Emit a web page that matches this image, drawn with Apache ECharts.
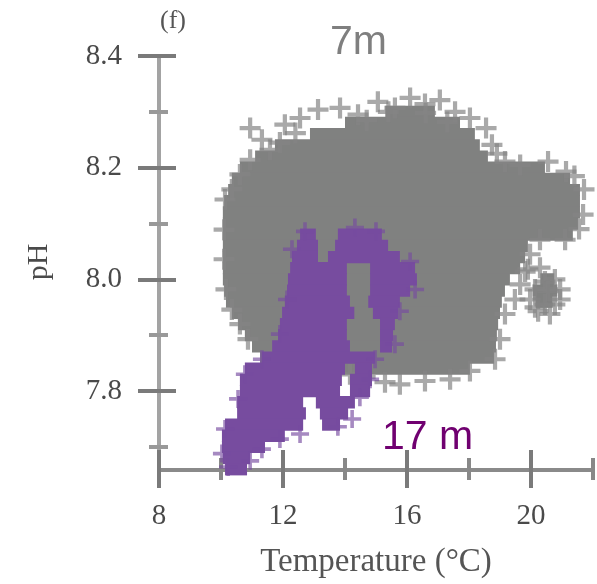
<!DOCTYPE html>
<html><head><meta charset="utf-8">
<script src="https://cdn.jsdelivr.net/npm/echarts@6/dist/echarts.min.js"></script>
<style>html,body{margin:0;padding:0;background:#fff}#c{width:597px;height:584px}</style>
</head><body><div id="c"></div>
<script>
// Axis ticks
const xTicks = [8, 12, 16, 20];
const xMinorTicks = [10, 14, 18, 22];
const yTicks = [7.8, 8.0, 8.2, 8.4];
const yMinorTicks = [7.7, 7.9, 8.1, 8.3];

// Dense part of the 7 m cloud: [pH band centre, temperature from, temperature to]
const gray7mRows = [
  [8.30, 15.30, 16.90],
  [8.28, 14.00, 17.71],
  [8.26, 12.87, 18.19],
  [8.24, 11.74, 18.35],
  [8.22, 11.10, 18.61],
  [8.20, 10.61, 20.45],
  [8.18, 10.35, 21.26],
  [8.16, 10.23, 21.58],
  [8.14, 10.10, 21.58],
  [8.12, 10.06, 21.58],
  [8.10, 10.06, 21.52],
  [8.08, 10.06, 21.35],
  [8.06, 10.06, 19.90],
  [8.04, 10.06, 19.81],
  [8.02, 10.06, 19.65],
  [8.00, 10.06, 19.32], [8.00, 20.30, 20.75],
  [7.98, 10.10, 19.16], [7.98, 20.05, 20.85],
  [7.96, 10.16, 19.06], [7.96, 20.15, 20.70],
  [7.94, 10.35, 19.00],
  [7.92, 10.55, 18.94],
  [7.90, 10.77, 18.90],
  [7.88, 11.00, 18.87],
  [7.86, 11.26, 18.81],
  [7.84, 11.42, 18.03]
];
// Scattered 7 m readings at the cloud edge: [temperature, pH]
const gray7mPoints = [
  [10.94, 8.271], [11.32, 8.25], [12.06, 8.277], [12.55, 8.289], [13.13, 8.304],
  [13.84, 8.307], [14.42, 8.295], [15.06, 8.318], [15.61, 8.307], [16.10, 8.325],
  [16.58, 8.314], [17.06, 8.321], [17.55, 8.30], [18.03, 8.289], [18.55, 8.271],
  [18.74, 8.241], [19.16, 8.211], [19.65, 8.205], [20.55, 8.211], [21.13, 8.193],
  [21.71, 8.161], [21.68, 8.116], [21.10, 8.071], [20.29, 8.071], [19.97, 8.045],
  [19.90, 8.018], [20.45, 7.996], [20.94, 7.982], [20.77, 7.955], [20.13, 7.95],
  [19.48, 7.964], [19.16, 7.938], [19.00, 7.893], [18.84, 7.857], [18.03, 7.836],
  [17.39, 7.821], [16.58, 7.818], [15.77, 7.812], [15.29, 7.816], [14.65, 7.825],
  [14.16, 7.830], [10.13, 8.143], [10.10, 8.089], [10.10, 8.036], [10.16, 7.982],
  [10.35, 7.946], [10.61, 7.920], [10.87, 7.893], [10.61, 8.188], [10.35, 8.161],
  [10.94, 8.214], [11.58, 8.232],
  [19.81, 8.014], [20.29, 8.021], [20.77, 8.000], [20.55, 7.979], [20.13, 7.982],
  [20.94, 7.964], [20.45, 7.955], [19.97, 7.964], [19.65, 7.991], [20.61, 7.938],
  [20.23, 7.943], [15.40, 8.300], [16.60, 8.298], [14.70, 8.285], [17.30, 8.282],
  [12.40, 8.262], [11.90, 8.245], [18.90, 8.225], [21.40, 8.185], [21.55, 8.090]
];

// Dense part of the 17 m cloud: [pH band centre, temperature from, temperature to]
const purple17mRows = [
  [8.08, 12.55, 13.06], [8.08, 13.77, 15.19],
  [8.06, 12.45, 13.13], [8.06, 13.68, 15.39],
  [8.04, 12.29, 13.13], [8.04, 13.45, 15.77],
  [8.02, 12.23, 14.06], [8.02, 14.81, 16.26],
  [8.00, 12.16, 14.06], [8.00, 14.81, 16.32],
  [7.98, 12.13, 14.06], [7.98, 14.81, 16.10],
  [7.96, 12.06, 14.16], [7.96, 14.75, 15.77],
  [7.94, 11.97, 14.30], [7.94, 14.90, 15.71],
  [7.92, 11.90, 14.06], [7.92, 15.13, 15.61],
  [7.90, 11.84, 14.06], [7.90, 15.13, 15.55],
  [7.88, 11.65, 14.16], [7.88, 15.13, 15.52],
  [7.86, 11.32, 14.97],
  [7.84, 10.77, 14.00], [7.84, 14.32, 14.87],
  [7.82, 10.61, 13.90], [7.82, 14.16, 14.87],
  [7.80, 10.61, 13.84], [7.80, 14.16, 14.81],
  [7.78, 10.52, 12.65], [7.78, 13.06, 14.32],
  [7.76, 10.52, 12.74], [7.76, 13.19, 14.10],
  [7.74, 10.13, 12.65], [7.74, 13.26, 13.84],
  [7.72, 10.03, 12.06],
  [7.70, 10.03, 11.42],
  [7.68, 10.06, 10.94],
  [7.66, 10.13, 10.84]
];
// Scattered 17 m readings at the cloud edge: [temperature, pH]
const purple17mPoints = [
  [12.71, 8.086], [14.32, 8.093], [15.00, 8.086], [16.10, 8.032], [16.26, 7.982],
  [15.77, 7.943], [15.61, 7.884], [14.97, 7.857], [14.81, 7.821], [14.48, 7.789],
  [14.23, 7.75], [13.77, 7.736], [12.55, 7.723], [11.90, 7.714], [11.32, 7.696],
  [10.94, 7.675], [10.23, 7.664], [10.03, 7.688], [10.13, 7.732], [10.55, 7.786],
  [10.77, 7.830], [11.32, 7.857], [11.90, 7.902], [12.13, 7.964], [12.29, 8.054]
];

const ROW = 0.02;
const GRAY = '#808180';
const PURPLE = '#774c9f';
const PLUS = 'path://M4,0h2v4h4v2h-4v4h-2v-4h-4v-2h4z';
const SERIF = '"Liberation Serif","DejaVu Serif",serif';

function bandRenderer(color) {
  return function (params, api) {
    const ph = api.value(0), t1 = api.value(1), t2 = api.value(2);
    const a = api.coord([t1, ph + ROW / 2 + 0.001]);
    const b = api.coord([t2, ph - ROW / 2 - 0.001]);
    return {type: 'rect', shape: {x: a[0], y: a[1], width: b[0] - a[0], height: b[1] - a[1]},
      style: {fill: color}};
  };
}

const X_MIN = 8, X_MAX = 22, Y_MIN = 7.63, Y_MAX = 8.4;
function xAx(o) {
  return Object.assign({type: 'value', min: X_MIN, max: X_MAX, position: 'bottom', offset: -16,
    splitLine: {show: false}, axisLine: {show: false}, axisLabel: {show: false},
    axisTick: {show: false}}, o);
}
function yAx(o) {
  return Object.assign({type: 'value', min: Y_MIN, max: Y_MAX, position: 'left',
    splitLine: {show: false}, axisLine: {show: false}, axisLabel: {show: false},
    axisTick: {show: false}}, o);
}

const chart = echarts.init(document.getElementById('c'));
chart.setOption({
  animation: false,
  backgroundColor: '#fff',
  grid: {left: 159, top: 56, width: 434, height: (Y_MAX - Y_MIN) * 560},
  xAxis: [
    xAx({
      axisLine: {show: true, lineStyle: {color: '#8a8a8a', width: 4}},
      axisTick: {show: true, customValues: xTicks, length: 18, lineStyle: {color: '#7a7a7a', width: 4}},
      axisLabel: {show: true, customValues: xTicks, margin: 32, fontFamily: SERIF, fontSize: 29, color: '#4a4a4a'},
      name: 'Temperature (°C)', nameLocation: 'middle', nameGap: 76,
      nameTextStyle: {fontFamily: SERIF, fontSize: 33, color: '#555'}
    }),
    xAx({axisTick: {show: true, inside: true, customValues: xTicks, length: 20, lineStyle: {color: '#7a7a7a', width: 4}}}),
    xAx({axisTick: {show: true, customValues: xMinorTicks, length: 10, lineStyle: {color: '#888', width: 4}}}),
    xAx({axisTick: {show: true, inside: true, customValues: xMinorTicks, length: 12, lineStyle: {color: '#888', width: 4}}})
  ],
  yAxis: [
    yAx({
      axisLine: {show: true, lineStyle: {color: '#a3a3a3', width: 4}},
      axisTick: {show: true, customValues: yTicks, length: 21, lineStyle: {color: '#7a7a7a', width: 4}},
      axisLabel: {show: true, customValues: yTicks, margin: 37, fontFamily: SERIF, fontSize: 29, color: '#4a4a4a',
        formatter: v => v.toFixed(1)},
      name: 'pH', nameLocation: 'middle', nameGap: 105, nameRotate: 90,
      nameTextStyle: {fontFamily: SERIF, fontSize: 30, color: '#4a4a4a', padding: [0, 0, 0, 18]}
    }),
    yAx({axisTick: {show: true, inside: true, customValues: yTicks, length: 17, lineStyle: {color: '#7a7a7a', width: 4}}}),
    yAx({axisTick: {show: true, customValues: yMinorTicks, length: 10, lineStyle: {color: '#999', width: 4}}}),
    yAx({axisTick: {show: true, inside: true, customValues: yMinorTicks, length: 9, lineStyle: {color: '#999', width: 4}}})
  ],
  series: [
    {type: 'custom', name: '7m', data: gray7mRows, encode: {x: [1, 2], y: 0},
      renderItem: bandRenderer(GRAY), clip: true, z: 1},
    {type: 'scatter', name: '7m', data: gray7mPoints, symbol: PLUS, symbolSize: 21,
      itemStyle: {color: '#858585', opacity: 0.7}, z: 2},
    {type: 'custom', name: '17 m', data: purple17mRows, encode: {x: [1, 2], y: 0},
      renderItem: bandRenderer(PURPLE), clip: true, z: 3},
    {type: 'scatter', name: '17 m', data: purple17mPoints, symbol: PLUS, symbolSize: 18,
      itemStyle: {color: PURPLE, opacity: 0.65}, z: 4}
  ],
  graphic: [
    {type: 'text', left: 160, top: 8, style: {text: '(f)', font: '26px ' + SERIF, fill: '#555'}},
    {type: 'text', left: 330, top: 22, style: {text: '7m', font: '41px "Liberation Sans", Arial, sans-serif', fill: '#7f7f7f'}},
    {type: 'text', left: 382, top: 417, style: {text: '17 m', font: '41px "Liberation Sans", Arial, sans-serif', fill: '#700070'}}
  ]
});
</script>
</body></html>
